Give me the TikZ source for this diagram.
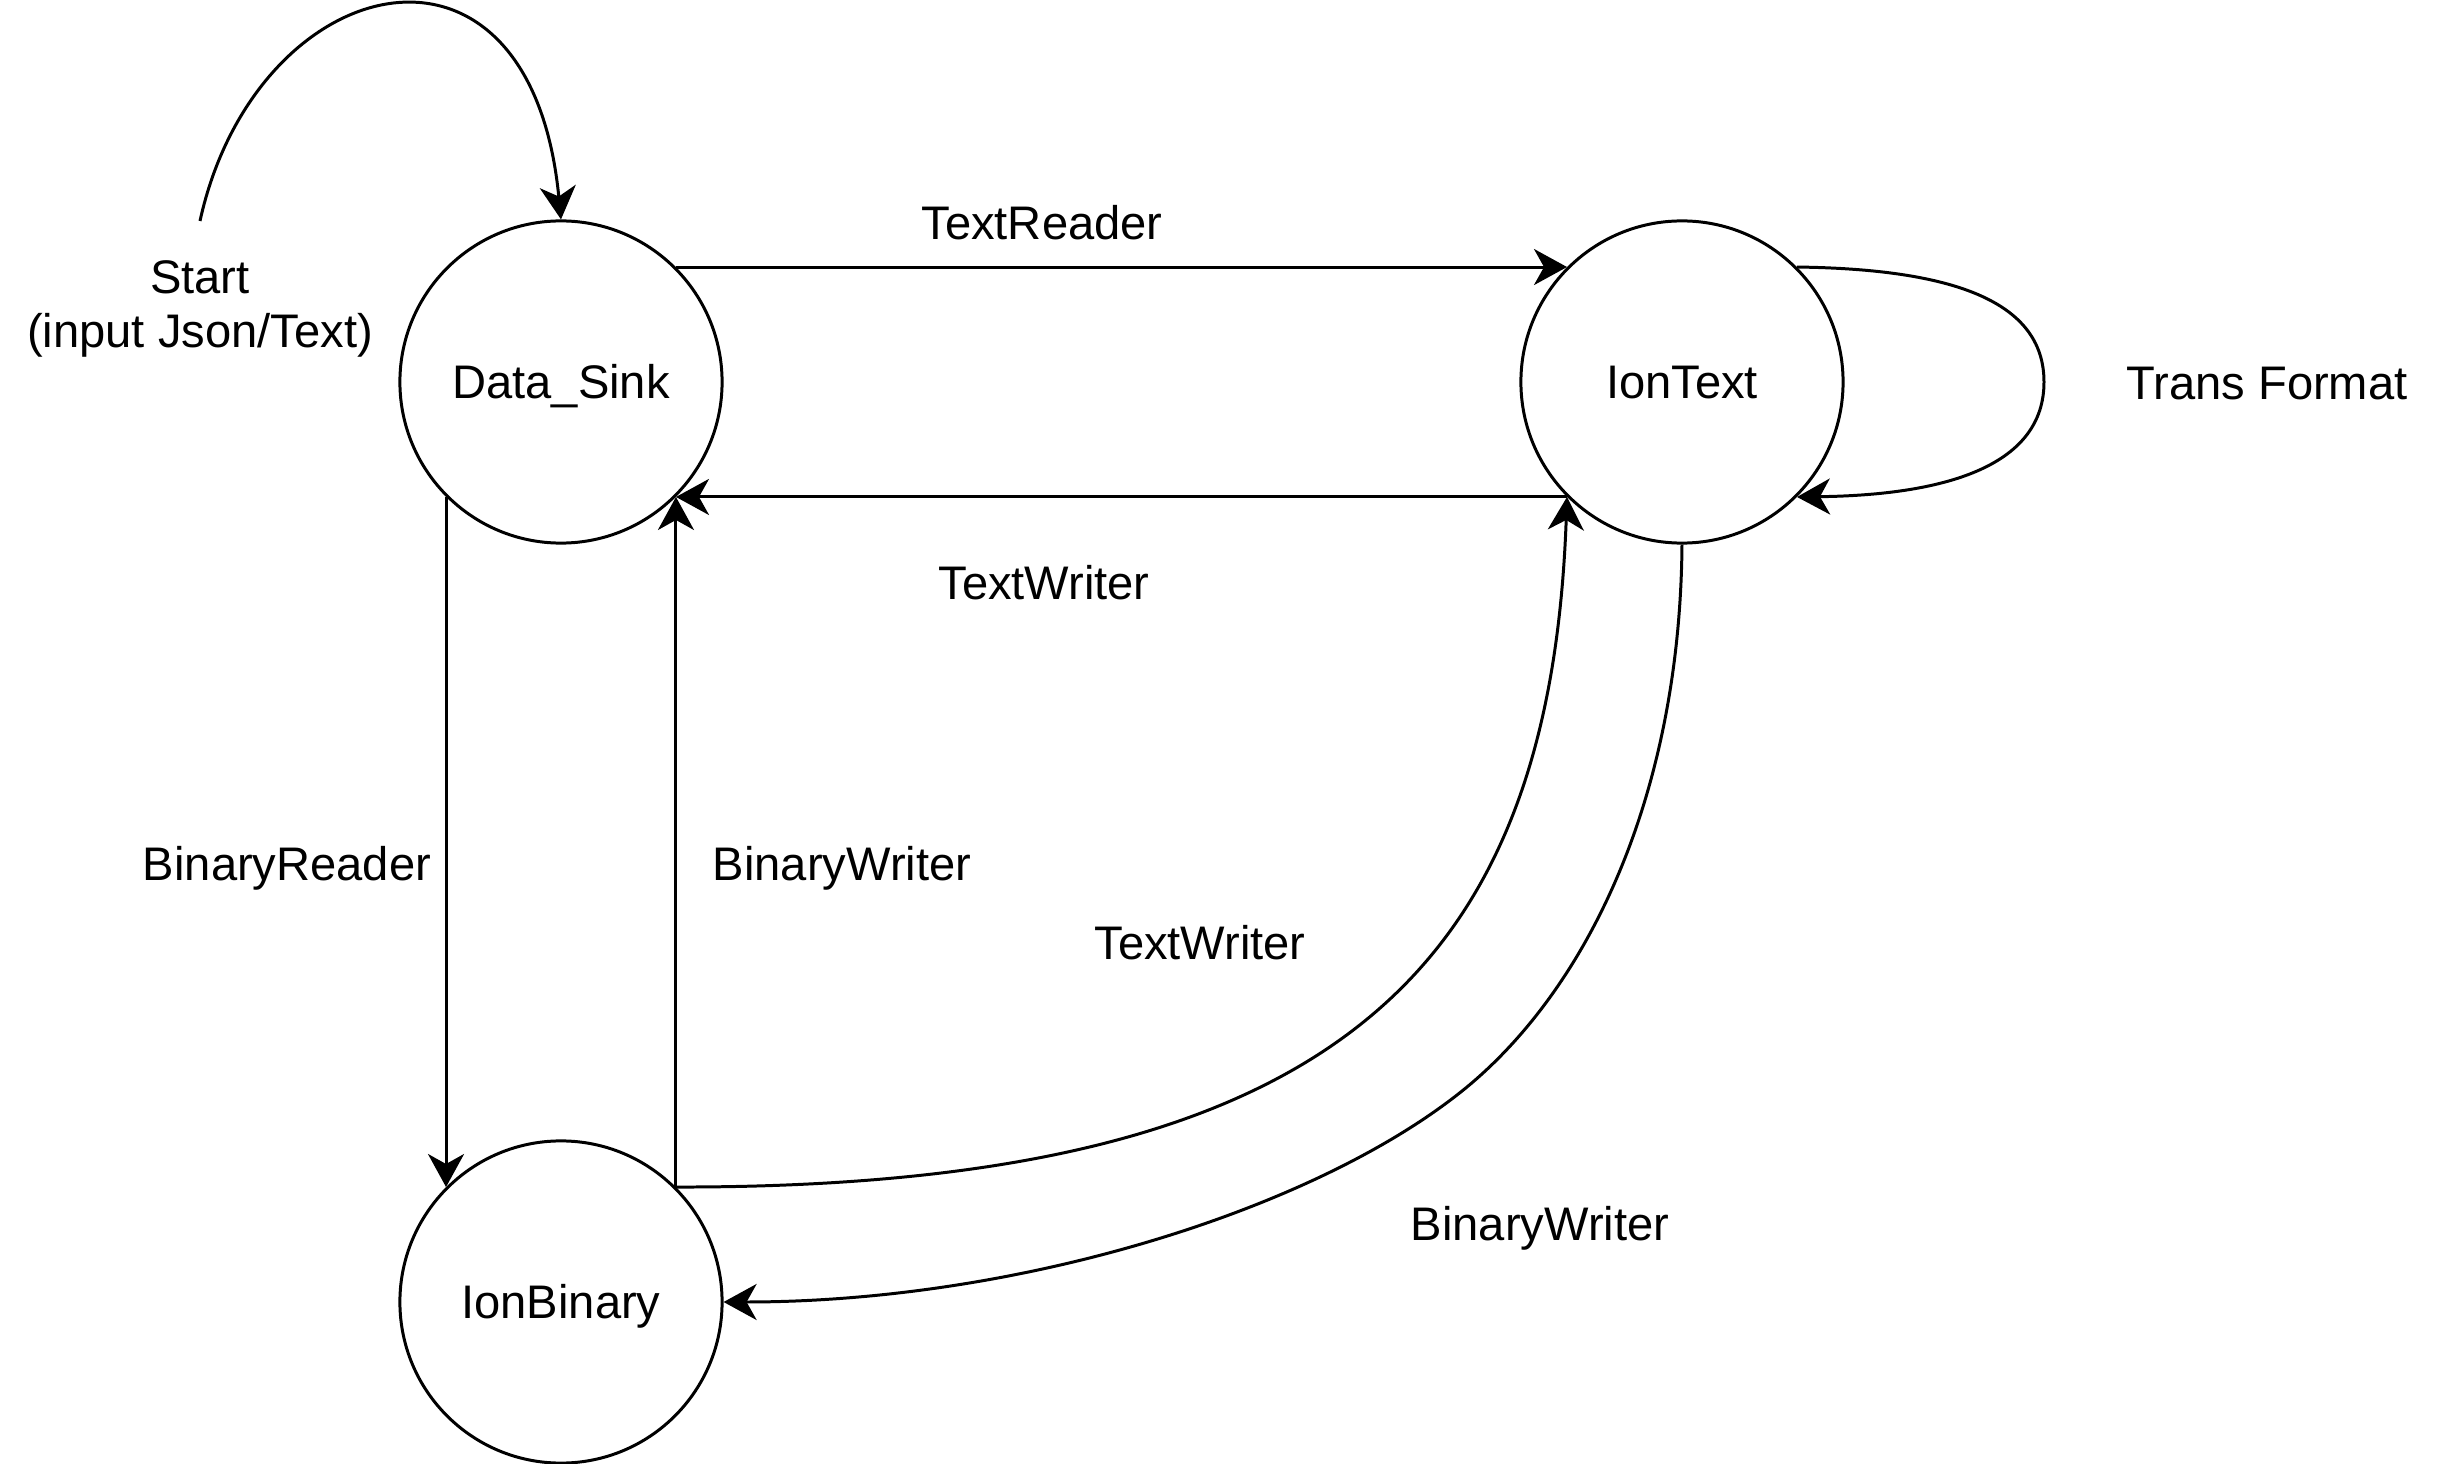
\documentclass[tikz,border=0pt]{standalone}
\usepackage{fontspec}
\setmainfont{Liberation Sans}
\usetikzlibrary{arrows.meta}
\begin{document}
\begin{tikzpicture}[x=0.01cm,y=-0.01cm,
  state/.style={circle,draw,line width=0.85pt,minimum size=3.22cm,inner sep=0pt,
    text height=0.335cm,text depth=0pt,font=\fontsize{13.4}{16}\selectfont},
  lbl/.style={font=\fontsize{13.4}{15.6}\selectfont,anchor=base,inner sep=0pt,align=center},
  conn/.style={line width=0.85pt,-{Stealth[length=3.3mm,width=3.6mm,inset=1mm]}},
]
\useasboundingbox (0,0) rectangle (2444,1464);

\node[state] (DS) at (561,382) {Data\_Sink};
\node[state] (IT) at (1682,382) {IonText};
\node[state] (IB) at (561,1302) {IonBinary};

\coordinate (st) at (200,221);
\draw[conn] (st) .. controls (255,-30) and (530,-100) .. (DS.north);

\draw[conn] (DS.45) -- (IT.135);
\draw[conn] (IT.-135) -- (DS.-45);
\draw[conn] (DS.-135) -- (IB.135);
\draw[conn] (IB.45) -- (DS.-45);
\draw[conn] (IB.45) .. controls (1337,1188) and (1550,970) .. (IT.-135);
\draw[conn] (IT.south) .. controls (1680,793) and (1590,985) .. (1467,1087)
  .. controls (1320,1208) and (1022,1302) .. (IB.east);
\draw[conn] (IT.45) .. controls (1950,269) and (2044,300) .. (2044,382)
  .. controls (2044,464) and (1950,495) .. (IT.-45);

\node[lbl] (lstart) at (200,348) {Start\\(input Json/Text)};
\node[lbl] (l1) at (1042,240) {TextReader};
\node[lbl] (l2) at (1044,600) {TextWriter};
\node[lbl] (l3) at (2267,400) {Trans Format};
\node[lbl] (l4) at (287,880) {BinaryReader};
\node[lbl] (l5) at (842,880) {BinaryWriter};
\node[lbl] (l6) at (1200,959) {TextWriter};
\node[lbl] (l7) at (1540,1240) {BinaryWriter};
\end{tikzpicture}
\end{document}
